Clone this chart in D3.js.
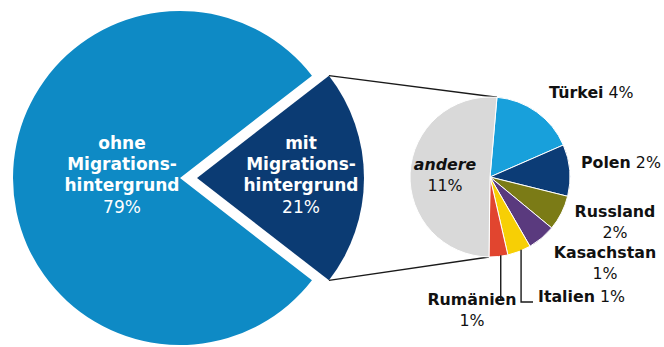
<!DOCTYPE html>
<html>
<head>
<meta charset="utf-8">
<script src="https://cdn.jsdelivr.net/npm/d3@7"></script>
<style>
  html, body { margin: 0; padding: 0; background: #fff; }
  svg { display: block; font-family: "DejaVu Sans", Verdana, sans-serif; }
</style>
</head>
<body>
<svg id="chart" width="664" height="347"></svg>
<script>
// main pie
const mainNames = ['ohne', 'mit'];
const mainValues = [79, 21];
const mainLabels = [['ohne', 'Migrations-', 'hintergrund'], ['mit', 'Migrations-', 'hintergrund']];

// breakdown of "mit Migrationshintergrund" (share of total population, %)
const countries = ['Türkei', 'Polen', 'Russland', 'Kasachstan', 'Italien', 'Rumänien', 'andere'];
const countryValues = [3.6, 2.2, 1.5, 1.2, 1.0, 0.8, 10.8];

const mainColors = ['#0e8ac5', '#0b3b73'];
const countryColors = ['#18a0db', '#0c3c76', '#7b7b16', '#5a3a7e', '#f7cf05', '#e1452f', '#d9d9d9'];

const svg = d3.select('#chart');

// ---- big pie ----
const bigR = 167;
const bigCx = 180, bigCy = 178;
const explode = 17;
const mitShare = mainValues[1] / d3.sum(mainValues);

const bigPie = d3.pie().sort(null)
  .startAngle(Math.PI / 2 + Math.PI * mitShare)
  .endAngle(Math.PI / 2 + Math.PI * mitShare + 2 * Math.PI);
const bigArc = d3.arc().innerRadius(0).outerRadius(bigR);
const bigArcs = bigPie(mainValues);

const bigG = svg.append('g').attr('transform', `translate(${bigCx},${bigCy})`);
bigG.selectAll('path')
  .data(bigArcs)
  .enter().append('path')
  .attr('d', bigArc)
  .attr('transform', (d, i) => i === 1 ? `translate(${explode},0)` : null)
  .attr('fill', (d, i) => mainColors[i]);

// ---- small pie ----
const smallR = 80;
const smallCx = 490, smallCy = 177;
const smallStart = 5 * Math.PI / 180;
const smallPie = d3.pie().sort(null)
  .startAngle(smallStart)
  .endAngle(smallStart + 2 * Math.PI);
const smallArc = d3.arc().innerRadius(0).outerRadius(smallR);
const smallArcs = smallPie(countryValues);

// connector lines from exploded slice corners to the small pie
const mitArc = bigArcs[1];
const pt = (cx, cy, r, a) => [cx + r * Math.sin(a), cy - r * Math.cos(a)];
const mitTop = pt(bigCx + explode, bigCy, bigR, mitArc.startAngle);
const mitBot = pt(bigCx + explode, bigCy, bigR, mitArc.endAngle);
const andereArc = smallArcs[countries.indexOf('andere')];
const smTop = pt(smallCx, smallCy, smallR, andereArc.endAngle);
const smBot = pt(smallCx, smallCy, smallR, andereArc.startAngle);

svg.append('path')
  .attr('d', d3.line()([mitTop, smTop]))
  .attr('stroke', '#1a1a1a').attr('stroke-width', 1.4).attr('fill', 'none');
svg.append('path')
  .attr('d', d3.line()([mitBot, smBot]))
  .attr('stroke', '#1a1a1a').attr('stroke-width', 1.4).attr('fill', 'none');

const smallG = svg.append('g').attr('transform', `translate(${smallCx},${smallCy})`);
smallG.selectAll('path')
  .data(smallArcs)
  .enter().append('path')
  .attr('d', smallArc)
  .attr('fill', (d, i) => countryColors[i])
  .attr('stroke', '#fff')
  .attr('stroke-width', 1);

// ---- labels ----
const pct = v => Math.round(v) + '%';

// inner labels of big pie
const innerPos = [[122 - bigCx, 0], [301 - bigCx, 0]];
const lineY = [-29, -8, 13, 35];
mainValues.forEach((v, i) => {
  const t = bigG.append('text')
    .attr('text-anchor', 'middle')
    .attr('fill', '#fff')
    .attr('font-size', 17);
  mainLabels[i].forEach((s, k) => {
    t.append('tspan').attr('x', innerPos[i][0]).attr('y', lineY[k])
      .attr('font-weight', 'bold').text(s);
  });
  t.append('tspan').attr('x', innerPos[i][0]).attr('y', lineY[3]).text(pct(v));
});

// small pie labels: [dx, dy, anchor, twoLines]
const labelPos = {
  'Türkei':     [59, -79, 'start', false],
  'Polen':      [91, -9, 'start', false],
  'Russland':   [125, 40, 'middle', true],
  'Kasachstan': [115, 81, 'middle', true],
  'Italien':    [48, 125, 'start', false],
  'Rumänien':   [-18, 128, 'middle', true],
  'andere':     [-45, -7, 'middle', true]
};

countries.forEach((c, i) => {
  const [dx, dy, anchor, two] = labelPos[c];
  const t = smallG.append('text')
    .attr('text-anchor', anchor)
    .attr('fill', '#111')
    .attr('font-size', 15.8);
  t.append('tspan').attr('x', dx).attr('y', dy)
    .attr('font-weight', 'bold')
    .attr('font-style', c === 'andere' ? 'italic' : null)
    .text(c);
  if (two) {
    t.append('tspan').attr('x', dx).attr('y', dy + 21).text(pct(countryValues[i]));
  } else {
    t.append('tspan').text('\u00a0' + pct(countryValues[i]));
  }
});

// leader lines for the two smallest slices
const leader = d3.line();
const ita = smallArcs[countries.indexOf('Italien')];
const rum = smallArcs[countries.indexOf('Rumänien')];
const itaP = pt(0, 0, smallR - 1, (ita.startAngle + ita.endAngle) / 2 - 0.03);
const rumP = pt(0, 0, smallR - 1, (rum.startAngle + rum.endAngle) / 2 - 0.03);
smallG.append('path')
  .attr('d', leader([itaP, [itaP[0], 125], [labelPos['Italien'][0] - 5, 125]]))
  .attr('stroke', '#1a1a1a').attr('stroke-width', 1.4).attr('fill', 'none');
smallG.append('path')
  .attr('d', leader([rumP, [rumP[0], 123]]))
  .attr('stroke', '#1a1a1a').attr('stroke-width', 1.4).attr('fill', 'none');
</script>
</body>
</html>
